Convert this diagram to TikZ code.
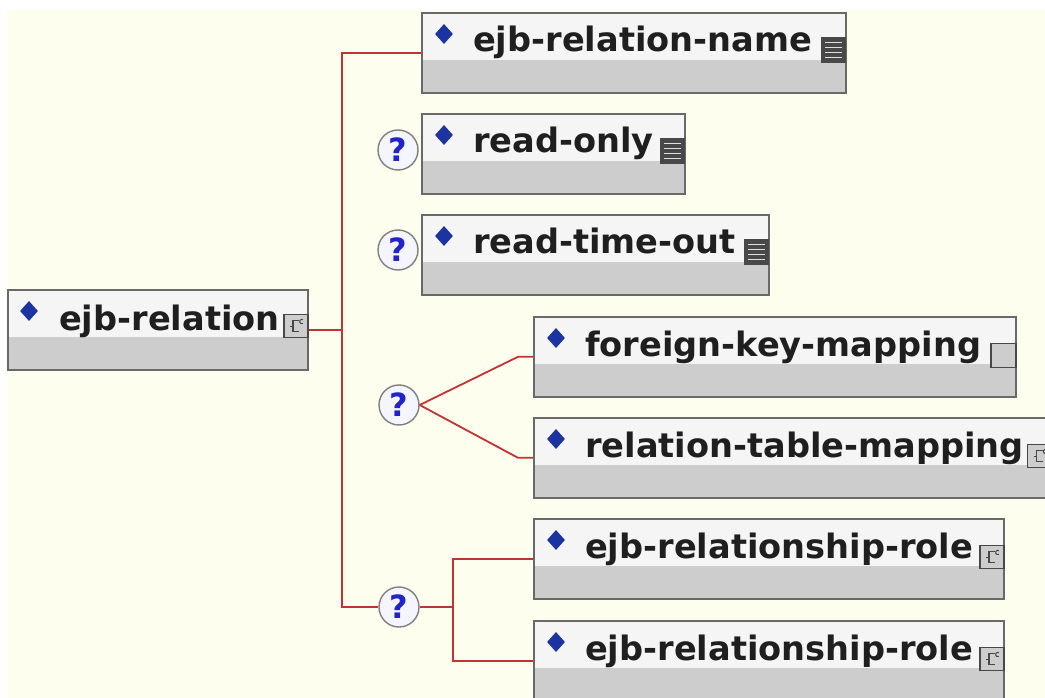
\documentclass[tikz,border=0pt]{standalone}
\usepackage{fontspec}
\setsansfont{DejaVu Sans}
\usepackage{xcolor}
\usetikzlibrary{shapes.geometric,calc}

\definecolor{paper}{RGB}{254,254,238}
\definecolor{boxtop}{RGB}{245,245,245}
\definecolor{boxgrey}{RGB}{205,205,205}
\definecolor{boxline}{RGB}{105,105,105}
\definecolor{wirered}{RGB}{196,50,50}
\definecolor{gemblue}{RGB}{28,52,160}
\definecolor{qblue}{RGB}{35,35,205}
\definecolor{icondark}{RGB}{72,72,72}

\tikzset{
  elem/.style={rectangle, draw=boxline, line width=1.6pt, fill=boxgrey, anchor=north west,
    minimum height=80pt, inner sep=0pt,
    path picture={\fill[boxtop] (path picture bounding box.north west)
      rectangle ([yshift=-47pt]path picture bounding box.north east);}},
  lbl/.style={anchor=base west, inner sep=0pt, text=black!88,
    font=\sffamily\bfseries\fontsize{33.6}{40}\selectfont},
  gem/.style={diamond, fill=gemblue, minimum width=18pt, minimum height=20pt, inner sep=0pt},
  qmark/.style={circle, draw=gray, line width=1.4pt, fill=blue!4!white, inner sep=0pt,
    minimum size=40pt, text=qblue, font=\sffamily\bfseries\fontsize{32}{32}\selectfont},
  wire/.style={draw=wirered, line width=1.8pt},
  txticon/.style={rectangle, fill=icondark, minimum width=25pt, minimum height=26pt,
    inner sep=0pt, anchor=north east,
    path picture={\foreach \k in {1,...,4}
      \draw[white!75!gray, line width=1.5pt]
        ([shift={(4pt,-\k*5pt-0.5pt)}]path picture bounding box.north west) -- ++(17pt,0pt);}},
  cpxicon/.style={rectangle, draw=icondark, line width=1.3pt, fill=boxgrey, minimum width=24pt,
    minimum height=23pt, inner sep=0pt, anchor=north east,
    path picture={\draw[icondark, line width=1.6pt]
        ([shift={(15pt,-6pt)}]path picture bounding box.north west) -- ++(-6pt,0pt)
        -- ++(0pt,-11pt) -- ++(6pt,0pt);
      \draw[icondark, line width=1.2pt]
        ([shift={(9pt,-11.5pt)}]path picture bounding box.north west) -- ++(-3pt,0pt);
      \draw[icondark, line width=1pt]
        ([shift={(19pt,-5pt)}]path picture bounding box.north west) arc[start angle=60, end angle=300, radius=2.2pt];}},
  emptyicon/.style={rectangle, draw=icondark, line width=1.2pt, fill=boxgrey, minimum width=25pt,
    minimum height=24pt, inner sep=0pt, anchor=north east}
}

\begin{document}
\begin{tikzpicture}[x=1pt, y=-1pt]
  \useasboundingbox (0,0) rectangle (1045,698);
  % background
  \fill[white] (0,0) rectangle (1045,698);
  \fill[paper] (7,10) rectangle (1045,698);

  % root element
  \node[elem, minimum width=300pt] (root) at (7,289) {};
  \node[gem] (root-d) at ([shift={(22pt,-22pt)}]root.north west) {};
  \node[lbl] (root-t) at ([shift={(52pt,-41pt)}]root.north west) {ejb-relation};
  \node[cpxicon] (root-ic) at ([yshift=-25pt]root.north east) {};

  % ejb-relation-name
  \node[elem, minimum width=424pt] (rname) at (421,12) {};
  \node[gem] (rname-d) at ([shift={(23pt,-22pt)}]rname.north west) {};
  \node[lbl] (rname-t) at ([shift={(52pt,-40pt)}]rname.north west) {ejb-relation-name};
  \node[txticon] (rname-ic) at ([yshift=-25pt]rname.north east) {};

  % read-only
  \node[qmark] (q1) at (398,150) {?};
  \node[elem, minimum width=263pt] (ronly) at (421,113) {};
  \node[gem] (ronly-d) at ([shift={(23pt,-22pt)}]ronly.north west) {};
  \node[lbl] (ronly-t) at ([shift={(52pt,-40pt)}]ronly.north west) {read-only};
  \node[txticon] (ronly-ic) at ([yshift=-25pt]ronly.north east) {};

  % read-time-out
  \node[qmark] (q2) at (398,250) {?};
  \node[elem, minimum width=347pt] (rtout) at (421,214) {};
  \node[gem] (rtout-d) at ([shift={(23pt,-22pt)}]rtout.north west) {};
  \node[lbl] (rtout-t) at ([shift={(52pt,-40pt)}]rtout.north west) {read-time-out};
  \node[txticon] (rtout-ic) at ([yshift=-25pt]rtout.north east) {};

  % choice of mappings
  \node[elem, minimum width=482pt] (fkmap) at (533,316) {};
  \node[gem] (fkmap-d) at ([shift={(23pt,-22pt)}]fkmap.north west) {};
  \node[lbl] (fkmap-t) at ([shift={(52pt,-40pt)}]fkmap.north west) {foreign-key-mapping};
  \node[emptyicon] (fkmap-ic) at ([yshift=-27pt]fkmap.north east) {};

  \node[elem, minimum width=517pt] (rtmap) at (533,417) {};
  \node[gem] (rtmap-d) at ([shift={(23pt,-22pt)}]rtmap.north west) {};
  \node[lbl] (rtmap-t) at ([shift={(52pt,-40pt)}]rtmap.north west) {relation-table-mapping};
  \node[cpxicon, anchor=north west] (rtmap-ic) at ([shift={(494pt,-27pt)}]rtmap.north west) {};

  % relationship roles
  \node[elem, minimum width=470pt] (role1) at (533,518) {};
  \node[gem] (role1-d) at ([shift={(23pt,-22pt)}]role1.north west) {};
  \node[lbl] (role1-t) at ([shift={(52pt,-40pt)}]role1.north west) {ejb-relationship-role};
  \node[cpxicon] (role1-ic) at ([yshift=-27pt]role1.north east) {};

  \node[elem, minimum width=470pt] (role2) at (533,620) {};
  \node[gem] (role2-d) at ([shift={(23pt,-22pt)}]role2.north west) {};
  \node[lbl] (role2-t) at ([shift={(52pt,-40pt)}]role2.north west) {ejb-relationship-role};
  \node[cpxicon] (role2-ic) at ([yshift=-27pt]role2.north east) {};

  % connectors
  \coordinate (trunk) at (342,0);
  \coordinate (fork) at (453,607);
  \node[qmark] (q3) at (399,405) {?};
  \node[qmark] (q4) at (399,607) {?};
  \draw[wire] (root.east) -- (root.east -| trunk);
  \draw[wire] (rname.west) -| (q4.west -| trunk) -- (q4.west);
  \draw[wire] (q3.east) -- ([xshift=-15pt]fkmap.west) -- (fkmap.west);
  \draw[wire] (q3.east) -- ([xshift=-15pt]rtmap.west) -- (rtmap.west);
  \draw[wire] (q4.east) -- (fork);
  \draw[wire] (role1.west) -| (fork) |- (role2.west);
\end{tikzpicture}
\end{document}
